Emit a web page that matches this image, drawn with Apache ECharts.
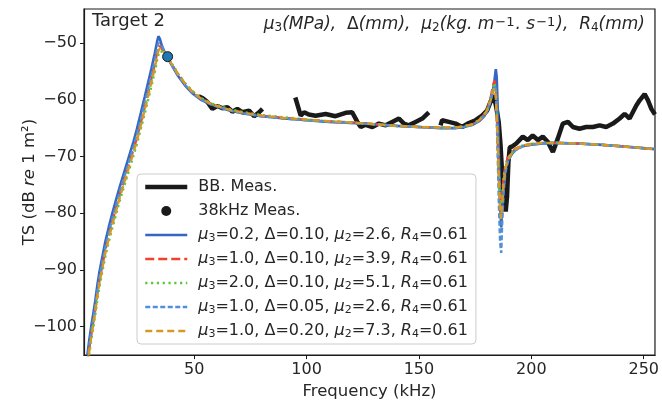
<!DOCTYPE html>
<html>
<head>
<meta charset="utf-8">
<script src="https://cdn.jsdelivr.net/npm/echarts@6/dist/echarts.min.js"></script>
<style>html,body{margin:0;padding:0;background:#fff}#c{width:662px;height:405px}</style>
</head>
<body>
<div id="c"></div>
<script>
// ---------------- DATA ----------------
const xTicks = [50, 100, 150, 200, 250];
const yTicks = [-100, -90, -80, -70, -60, -50];

// Broadband measurement (null = gap)
const bbFreq = [52, 53.7, 55.9, 58.1, 60.3, 62.6, 64.8, 67, 69.2, 71.5, 74.4, 76.7, 78.9, 80.4,
  88,
  95.0, 97.4, 98.9, 101, 104, 108.5, 112.9, 117.4, 120.3, 122.6, 124.1, 126.3, 129.3, 132.2, 135.2, 138.1, 141.1, 143.3, 145.5, 148.5, 151.5, 154.4,
  157,
  159.6, 160.3, 163.3, 166.3, 169.2, 172.2, 175.2, 178.1, 180.3, 181.8, 182.9, 183.6, 184.5, 185.5, 186.3, 187.0, 187.8, 188.6, 189.2, 189.8, 190.4, 191.6, 193.3, 196.2, 198.4, 200.6, 202.9, 205.1, 207.3, 209.6, 211.8, 214, 216.3, 218.5, 221.4, 224.4, 227.4, 230.4, 233.3, 236.3, 239.3, 241.5, 243.7, 246.7, 248.2, 250.4, 251.9, 253.4, 255];
const bbTS = [-59.4, -59.7, -60.4, -61.6, -61.1, -61.5, -61.3, -62.1, -61.6, -62.2, -61.9, -62.9, -62.2, -61.6,
  null,
  -59.6, -62.8, -62.2, -62.6, -62.8, -62.5, -62.9, -62.3, -62.2, -63.9, -64.8, -64.4, -64.8, -64.2, -64.5, -63.9, -63.3, -64.2, -64.5, -63.9, -63.3, -62.2,
  null,
  -64.5, -63.6, -63.9, -64.2, -64.8, -64.1, -63.6, -62.8, -61.9, -60.4, -59.3, -59.8, -61.5, -64, -68, -73, -77, -79.7, -77, -71, -68.4, -68.2, -67.7, -66.5, -67.1, -66.3, -67.1, -66.5, -67.4, -69.2, -66.8, -64.2, -63.9, -64.8, -65.1, -64.8, -64.8, -64.5, -64.8, -64.2, -63.3, -62.5, -63.3, -61.0, -60.1, -59.0, -60.1, -61.6, -62.6];

// 38 kHz measurement
const meas38Freq = [38.2];
const meas38TS = [-52.4];

// Model curves, shared frequency grid (kHz)
const modelFreq = [2.5, 3.3, 4.2, 5, 6, 7, 7.8, 9, 10.5, 12, 13.6, 15.5, 17, 19, 21, 23, 24.5, 26.3, 28, 29.5, 31, 32.5, 33.5, 34.1, 34.8, 35.5, 36.5, 38, 40, 43, 46, 49, 53, 58, 65, 72, 80, 90, 100, 110, 120, 130, 140, 150, 160, 166, 170, 174, 177, 179, 180.5, 181.8, 182.8, 183.6, 184.2, 184.6, 185.1, 185.6, 186.1, 186.6, 187.1, 187.7, 188.5, 189.5, 191, 193, 196, 200, 205, 211, 220, 230, 240, 255];
// mu3=0.2, D=0.10, mu2=2.6
const tsA = [-105, -102.5, -100, -98, -95.5, -92.5, -90.5, -88, -85, -82.5, -80, -77.3, -75.2, -72.6, -70, -67.4, -65.2, -62.3, -59.5, -57, -54.5, -51.8, -49.8, -48.8, -49.3, -50.3, -51.3, -52.4, -53.9, -55.9, -57.5, -58.8, -60, -60.9, -61.8, -62.4, -62.9, -63.3, -63.6, -63.9, -64.1, -64.3, -64.6, -64.8, -65.0, -65.0, -64.8, -64.4, -63.7, -62.9, -61.9, -60.4, -58.6, -56.6, -54.6, -56, -62, -70, -78, -82.5, -79, -75, -72.3, -70.8, -69.7, -68.8, -68.2, -67.9, -67.7, -67.6, -67.7, -67.9, -68.2, -68.7];
// mu3=1.0, D=0.10, mu2=3.9
const tsB = [-106.5, -104, -101.5, -99.5, -97, -94, -92, -89.5, -86.5, -84, -81.5, -78.8, -76.6, -74, -71.4, -68.8, -66.8, -64, -61.3, -58.8, -56.3, -53.7, -51.8, -50.9, -50.5, -50.8, -51.5, -52.4, -53.7, -55.6, -57.2, -58.5, -59.8, -60.8, -61.7, -62.3, -62.8, -63.2, -63.5, -63.8, -64.0, -64.3, -64.6, -64.8, -64.9, -64.9, -64.7, -64.3, -63.5, -62.6, -61.5, -59.8, -57.8, -56.6, -58, -62, -68, -74, -79, -80.5, -77, -73.5, -71.5, -70.3, -69.4, -68.6, -68.1, -67.8, -67.6, -67.6, -67.7, -67.9, -68.2, -68.7];
// mu3=2.0, D=0.10, mu2=5.1
const tsC = [-107, -104.8, -102.3, -100.3, -97.8, -95, -93, -90.5, -87.5, -85, -82.5, -79.8, -77.6, -75, -72.4, -69.8, -67.8, -65, -62.4, -60, -57.5, -55, -53, -52, -51.4, -51.2, -51.6, -52.4, -53.6, -55.5, -57.1, -58.4, -59.7, -60.7, -61.6, -62.2, -62.7, -63.1, -63.5, -63.8, -64.0, -64.3, -64.6, -64.8, -64.9, -64.9, -64.7, -64.3, -63.5, -62.6, -61.6, -60.0, -58.3, -57, -58.5, -62.5, -68, -73.5, -78.5, -80, -77, -73.8, -71.8, -70.5, -69.5, -68.7, -68.1, -67.8, -67.6, -67.6, -67.7, -67.9, -68.2, -68.7];
// mu3=1.0, D=0.05, mu2=2.6
const tsD = [-106, -103.5, -101, -99, -96.5, -93.5, -91.5, -89, -86, -83.5, -81, -78.3, -76.1, -73.5, -70.9, -68.3, -66.2, -63.4, -60.6, -58.1, -55.6, -53, -51, -50, -49.8, -50.4, -51.3, -52.4, -53.8, -55.8, -57.4, -58.7, -59.9, -60.9, -61.8, -62.4, -62.9, -63.3, -63.6, -63.9, -64.1, -64.3, -64.6, -64.8, -65.0, -65.0, -64.8, -64.4, -63.6, -62.8, -61.8, -60.2, -58.4, -57.5, -58, -63, -71, -79, -85, -87, -81, -76, -72.8, -71, -69.8, -68.9, -68.2, -67.9, -67.7, -67.6, -67.7, -67.9, -68.2, -68.7];
// mu3=1.0, D=0.20, mu2=7.3
const tsE = [-106.8, -104.4, -101.9, -99.9, -97.4, -94.5, -92.5, -90, -87, -84.5, -82, -79.3, -77.1, -74.5, -71.9, -69.3, -67.3, -64.5, -61.8, -59.4, -56.9, -54.4, -52.4, -51.4, -50.9, -50.9, -51.5, -52.4, -53.7, -55.6, -57.2, -58.5, -59.8, -60.8, -61.7, -62.3, -62.8, -63.2, -63.5, -63.8, -64.0, -64.3, -64.6, -64.8, -64.9, -64.9, -64.7, -64.3, -63.5, -62.7, -61.7, -60.1, -58.5, -58, -59.5, -63, -68.5, -74.5, -79.5, -81, -78, -74.5, -72, -70.6, -69.6, -68.7, -68.1, -67.8, -67.6, -67.6, -67.7, -67.9, -68.2, -68.7];

const modelNames = [
  'μ3=0.2, Δ=0.10, μ2=2.6, R4=0.61',
  'μ3=1.0, Δ=0.10, μ2=3.9, R4=0.61',
  'μ3=2.0, Δ=0.10, μ2=5.1, R4=0.61',
  'μ3=1.0, Δ=0.05, μ2=2.6, R4=0.61',
  'μ3=1.0, Δ=0.20, μ2=7.3, R4=0.61'
];
const modelTS = [tsA, tsB, tsC, tsD, tsE];

// ---------------- STYLE ----------------
const FONT = 'DejaVu Sans';
const TXT = '#262626';
const modelStyles = [
  {color: '#3566c2', type: 'solid', width: 2.6},
  {color: '#f2402c', type: [9, 4], width: 2.4},
  {color: '#5fc63a', type: [2.2, 3.6], width: 2.6},
  {color: '#4f90d8', type: [5, 2.5], width: 2.4},
  {color: '#d49a28', type: [7, 4], width: 2.4}
];

function zip(xs, ys) { return xs.map((x, i) => [x, ys[i] === null ? '-' : ys[i]]); }

const richBase = {fontFamily: FONT, fontSize: 16, color: TXT, lineHeight: 18};
const rich = {
  i: Object.assign({}, richBase, {fontStyle: 'italic'}),
  s: Object.assign({}, richBase, {fontSize: 11, lineHeight: 11, verticalAlign: 'bottom'}),
  n: Object.assign({}, richBase)
};
const richT = {
  i: Object.assign({}, richBase, {fontStyle: 'italic', fontSize: 17}),
  s: Object.assign({}, richBase, {fontSize: 12, lineHeight: 11, verticalAlign: 'bottom'}),
  p: Object.assign({}, richBase, {fontSize: 13, lineHeight: 8, verticalAlign: 'top', padding: [0, 1, 0, 1]}),
  n: Object.assign({}, richBase, {fontSize: 17})
};
function richLabel(name) {
  if (name === 'BB. Meas.' || name === '38kHz Meas.') return name;
  const m = name.match(/μ3=([\d.]+), Δ=([\d.]+), μ2=([\d.]+), R4=([\d.]+)/);
  return '{i|μ}{s|3}=' + m[1] + ', Δ=' + m[2] + ', {i|μ}{s|2}=' + m[3] + ', {i|R}{s|4}=' + m[4];
}

const series = [];
series.push({
  name: 'BB. Meas.', type: 'line', data: zip(bbFreq, bbTS), connectNulls: false,
  symbol: 'none', z: 1, lineStyle: {color: '#1a1a1a', width: 4.5}, itemStyle: {color: '#1a1a1a'}
});
series.push({
  name: '38kHz Meas.', type: 'scatter', data: zip(meas38Freq, meas38TS), z: 5,
  symbol: 'circle', symbolSize: 10,
  itemStyle: {color: '#1f77b4', borderColor: '#1a1a1a', borderWidth: 1, opacity: 1}
});
modelNames.forEach((n, k) => {
  series.push({
    name: n, type: 'line', data: zip(modelFreq, modelTS[k]), symbol: 'none', z: 2 + k * 0.1,
    lineStyle: {color: modelStyles[k].color, width: modelStyles[k].width, type: modelStyles[k].type},
    itemStyle: {color: modelStyles[k].color}
  });
});

const hiddenSym = {color: 'rgba(0,0,0,0)', borderWidth: 0, borderColor: 'rgba(0,0,0,0)'};

const chart = echarts.init(document.getElementById('c'), null, {renderer: 'canvas'});
chart.setOption({
  animation: false,
  backgroundColor: '#fff',
  title: [
    {text: 'Target 2', left: 87, top: 6, textStyle: {fontFamily: FONT, fontSize: 18, fontWeight: 'normal', color: TXT, lineHeight: 20}},
    {text: '{i|μ}{s|3}{i|(MPa),}  {n|Δ}{i|(mm),}  {i|μ}{s|2}{i|(kg. m}{p|−1}{i|. s}{p|−1}{i|),}  {i|R}{s|4}{i|(mm)}',
     right: 12, top: 11, textStyle: {fontFamily: FONT, fontSize: 17, fontWeight: 'normal', color: TXT, lineHeight: 18, rich: richT}}
  ],
  grid: {left: 84, right: 6, top: 9, bottom: 47, show: true, borderColor: '#1a1a1a', borderWidth: 1.2, backgroundColor: '#fff'},
  legend: {
    orient: 'vertical', left: 137, top: 174,
    padding: [4, 8, 4, 6], itemWidth: 42, itemHeight: 10, itemGap: 6,
    backgroundColor: 'rgba(255,255,255,0.85)', borderColor: '#cccccc', borderWidth: 1, borderRadius: 4,
    lineStyle: {width: 'inherit'},
    data: [
      {name: 'BB. Meas.', itemStyle: hiddenSym},
      {name: '38kHz Meas.', itemStyle: {color: '#1a1a1a', borderWidth: 0}},
    ].concat(modelNames.map(n => ({name: n, itemStyle: hiddenSym}))),
    formatter: richLabel,
    textStyle: {fontFamily: FONT, fontSize: 16, color: TXT, lineHeight: 18, padding: [0, 0, 0, 6], rich: rich}
  },
  xAxis: {
    type: 'value', min: 1, max: 255,
    name: 'Frequency (kHz)', nameLocation: 'middle', nameGap: 24,
    nameTextStyle: {fontFamily: FONT, fontSize: 16.5, color: TXT},
    axisLine: {show: true, lineStyle: {color: '#1a1a1a', width: 1.2}},
    axisTick: {show: true, length: 4, lineStyle: {color: '#1a1a1a'}, customValues: xTicks},
    axisLabel: {fontFamily: FONT, fontSize: 16, color: TXT, margin: 7, customValues: xTicks},
    splitLine: {show: false}
  },
  yAxis: {
    type: 'value', min: -105, max: -44,
    name: 'TS (dB {i|re} 1 m²)', nameLocation: 'middle', nameGap: 46, nameRotate: 90, nameMoveOverlap: false,
    nameTextStyle: {fontFamily: FONT, fontSize: 16.5, color: TXT, rich: {i: {fontFamily: FONT, fontSize: 16.5, color: TXT, fontStyle: 'italic'}}},
    axisLine: {show: true, lineStyle: {color: '#1a1a1a', width: 1.2}},
    axisTick: {show: true, length: 4, lineStyle: {color: '#1a1a1a'}, customValues: yTicks},
    axisLabel: {fontFamily: FONT, fontSize: 16, color: TXT, margin: 7, customValues: yTicks,
      formatter: v => String(v).replace('-', '\u2212')},
    splitLine: {show: false}
  },
  series: series
});
</script>
</body>
</html>
